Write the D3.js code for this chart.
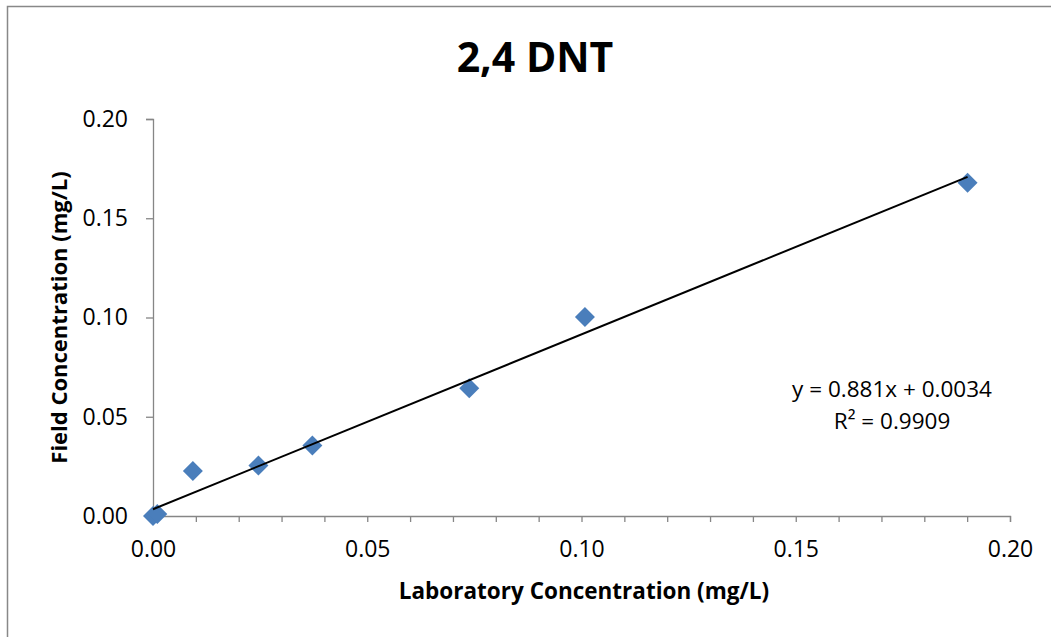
<!DOCTYPE html>
<html>
<head>
<meta charset="utf-8">
<script src="https://cdn.jsdelivr.net/npm/d3@7"></script>
<style>
  html, body { margin: 0; padding: 0; background: #fff; }
  svg { display: block; }
  text { font-family: "Open Sans", "Liberation Sans", sans-serif; fill: #000; }
</style>
</head>
<body>
<svg id="chart" width="1051" height="637"></svg>
<script>
// ---- data ----
const labX = [0.000, 0.001, 0.0093, 0.0246, 0.0372, 0.0738, 0.1008, 0.1901];
const fieldY = [0.000, 0.001, 0.0227, 0.0254, 0.0355, 0.0644, 0.1003, 0.1679];
const trendSlope = 0.881;
const trendIntercept = 0.0034;
const rSquared = 0.9909;
const xTickValues = [0, 0.01, 0.02, 0.03, 0.04, 0.05, 0.06, 0.07, 0.08, 0.09, 0.10, 0.11, 0.12, 0.13, 0.14, 0.15, 0.16, 0.17, 0.18, 0.19, 0.20];
const xTickLabels = ["0.00", "0.05", "0.10", "0.15", "0.20"];
const yTickValues = [0, 0.05, 0.10, 0.15, 0.20];
const yTickLabels = ["0.00", "0.05", "0.10", "0.15", "0.20"];
const chartTitle = "2,4 DNT";
const xTitle = "Laboratory Concentration (mg/L)";
const yTitle = "Field Concentration (mg/L)";

// ---- layout ----
const svg = d3.select("#chart");
const plot = { left: 153, right: 1010, top: 119, bottom: 516 };
const x = d3.scaleLinear().domain([0, 0.2]).range([plot.left, plot.right]);
const y = d3.scaleLinear().domain([0, 0.2]).range([plot.bottom, plot.top]);
const axisColor = "#868686";
const markColor = "#4a7ebb";

// outer border
svg.append("rect")
  .attr("x", 7.5).attr("y", 6.5)
  .attr("width", 1060).attr("height", 650)
  .attr("fill", "none").attr("stroke", "#888").attr("stroke-width", 1.5);

// title
svg.append("text")
  .attr("x", 535).attr("y", 72)
  .attr("text-anchor", "middle")
  .style("font-size", "41px").style("font-weight", "bold")
  .text(chartTitle);

// x axis
const xAxis = d3.axisBottom(x)
  .tickValues(xTickValues)
  .tickSize(6)
  .tickPadding(19)
  .tickFormat(d => {
    const i = xTickLabels.indexOf(d3.format(".2f")(d));
    return (Math.abs(d * 20 - Math.round(d * 20)) < 1e-9 && i >= 0) ? xTickLabels[i] : "";
  });
const gx = svg.append("g").attr("transform", `translate(0,${plot.bottom})`).call(xAxis);
gx.select(".domain").attr("stroke", axisColor).attr("stroke-width", 1.3);
gx.selectAll(".tick line").attr("stroke", axisColor).attr("stroke-width", 1.3);
gx.selectAll(".tick text").style("font-size", "23px").style("font-family", "'Open Sans', sans-serif").attr("fill", "#000");

// y axis
const yAxis = d3.axisLeft(y)
  .tickValues(yTickValues)
  .tickSize(7)
  .tickPadding(18)
  .tickFormat((d, i) => yTickLabels[i]);
const gy = svg.append("g").attr("transform", `translate(${plot.left},0)`).call(yAxis);
gy.select(".domain").attr("stroke", axisColor).attr("stroke-width", 1.3);
gy.selectAll(".tick line").attr("stroke", axisColor).attr("stroke-width", 1.3);
gy.selectAll(".tick text").style("font-size", "23px").style("font-family", "'Open Sans', sans-serif").attr("fill", "#000");

// axis titles
svg.append("text")
  .attr("x", 584).attr("y", 599)
  .attr("text-anchor", "middle")
  .style("font-size", "22.5px").style("font-weight", "bold")
  .text(xTitle);
svg.append("text")
  .attr("transform", `translate(67,${(plot.top + plot.bottom) / 2}) rotate(-90)`)
  .attr("text-anchor", "middle")
  .style("font-size", "22px").style("font-weight", "bold")
  .text(yTitle);

// points
const pts = labX.map((v, i) => ({ x: v, y: fieldY[i] }));
svg.append("g").selectAll("path.pt")
  .data(pts).join("path")
  .attr("class", "pt")
  .attr("d", d3.symbol().type(d3.symbolSquare).size(200))
  .attr("transform", d => `translate(${x(d.x)},${y(d.y)}) rotate(45)`)
  .attr("fill", markColor);

// trendline
const xMin = d3.min(labX), xMax = d3.max(labX);
svg.append("line")
  .attr("x1", x(xMin)).attr("y1", y(trendSlope * xMin + trendIntercept))
  .attr("x2", x(xMax)).attr("y2", y(trendSlope * xMax + trendIntercept))
  .attr("stroke", "#000").attr("stroke-width", 2);

// trendline equation label
svg.append("text")
  .attr("x", 892).attr("y", 397)
  .attr("text-anchor", "middle")
  .style("font-size", "22.5px")
  .text(`y = ${trendSlope}x + ${trendIntercept}`);
svg.append("text")
  .attr("x", 892).attr("y", 428.5)
  .attr("text-anchor", "middle")
  .style("font-size", "22.5px")
  .text(`R² = ${rSquared}`);
</script>
</body>
</html>
